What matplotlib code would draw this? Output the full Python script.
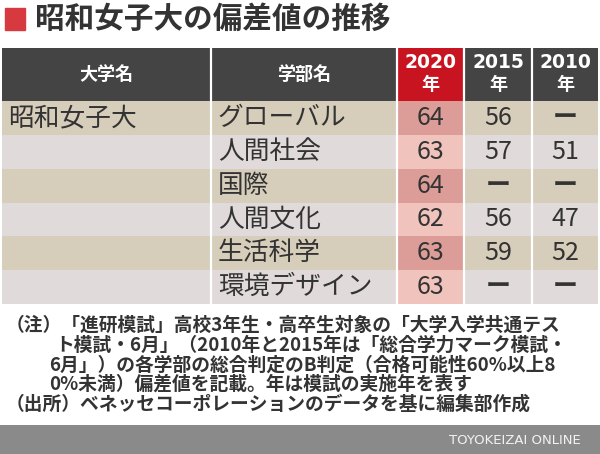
import matplotlib.pyplot as plt
from matplotlib.patches import Rectangle

plt.rcParams['font.family'] = ['Noto Sans CJK JP', 'DejaVu Sans']

title = "昭和女子大の偏差値の推移"
header_names = ["大学名", "学部名"]
years = ["2020", "2015", "2010"]
university = "昭和女子大"
faculties = ["グローバル", "人間社会", "国際", "人間文化", "生活科学", "環境デザイン"]
scores_2020 = [64, 63, 64, 62, 63, 63]
scores_2015 = [56, 57, None, 56, 59, None]
scores_2010 = [None, 51, None, 47, 52, None]
notes = [
    "（注）「進研模試」高校3年生・高卒生対象の「大学入学共通テス",
    "ト模試・6月」（2010年と2015年は「総合学力マーク模試・",
    "6月」）の各学部の総合判定のB判定（合格可能性60%以上8",
    "0%未満）偏差値を記載。年は模試の実施年を表す",
    "（出所）ベネッセコーポレーションのデータを基に編集部作成",
]
credit = "TOYOKEIZAI ONLINE"

fig = plt.figure(figsize=(6, 4.54), dpi=100)
ax = fig.add_axes([0, 0, 1, 1])
ax.set_xlim(0, 600)
ax.set_ylim(454, 0)
ax.axis('off')

# title
ax.add_patch(Rectangle((5, 8), 20, 22, color="#d63a40"))
ax.text(35, 19, title, fontsize=21.3, fontweight='bold', color="#333333", va='center', ha='left')

# table layout
edges = [2, 211, 397, 464, 532, 598]
head_top, head_bot = 48, 101
row_h = (304 - head_bot) / len(faculties)
dark = "#444444"
red = "#c81420"
row_cols = ["#d6cdba", "#e1dada"]
red_cols = ["#dc9d98", "#f0c3bc"]
text_col = "#333333"

# header
for i in range(5):
    c = red if i == 2 else dark
    ax.add_patch(Rectangle((edges[i], head_top), edges[i + 1] - edges[i], head_bot - head_top, color=c, lw=0))
for i, name in enumerate(header_names):
    ax.text((edges[i] + edges[i + 1]) / 2, 74, name, color="white", fontsize=13,
            fontweight='bold', ha='center', va='center')
for j, y in enumerate(years):
    cx = (edges[j + 2] + edges[j + 3]) / 2
    ax.text(cx, 63, y, color="white", fontsize=13.5, fontweight='bold', ha='center', va='center',
            family='DejaVu Sans')
    ax.text(cx, 84, "年", color="white", fontsize=13, fontweight='bold', ha='center', va='center')

# body rows
cols = [scores_2020, scores_2015, scores_2010]
for r, fac in enumerate(faculties):
    top = head_bot + r * row_h
    mid = top + row_h / 2
    ax.add_patch(Rectangle((edges[0], top), edges[-1] - edges[0], row_h, color=row_cols[r % 2], lw=0))
    ax.add_patch(Rectangle((edges[2], top), edges[3] - edges[2], row_h, color=red_cols[r % 2], lw=0))
    if r == 0:
        ax.text(8, mid, university, fontsize=18.5, color=text_col, ha='left', va='center')
    ax.text(218, mid, fac, fontsize=18.5, color=text_col, ha='left', va='center')
    for j, vals in enumerate(cols):
        cx = (edges[j + 2] + edges[j + 3]) / 2
        v = vals[r]
        s = str(v) if v is not None else "ー"
        ax.text(cx, mid, s, fontsize=18, color=text_col, ha='center', va='center',
                fontweight='bold' if v is None else 'normal')

# white column separators
for x in edges[1:-1]:
    ax.plot([x, x], [head_top, 304], color="white", lw=1.6)

# notes
note_y = [325, 345, 365, 384.5, 404]
note_x = [6, 55, 49, 49, 6]
for t, x, y in zip(notes, note_x, note_y):
    ax.text(x, y, t, fontsize=13.5, color=text_col, ha='left', va='center', fontweight='bold')

# footer band
ax.add_patch(Rectangle((0, 425), 600, 29, color="#8a8a8a", lw=0))
ax.text(581, 441, credit, fontsize=9.5, color="#f2f2f2", ha='right', va='center',
        family='DejaVu Sans')

fig.savefig("out.png", dpi=100)
